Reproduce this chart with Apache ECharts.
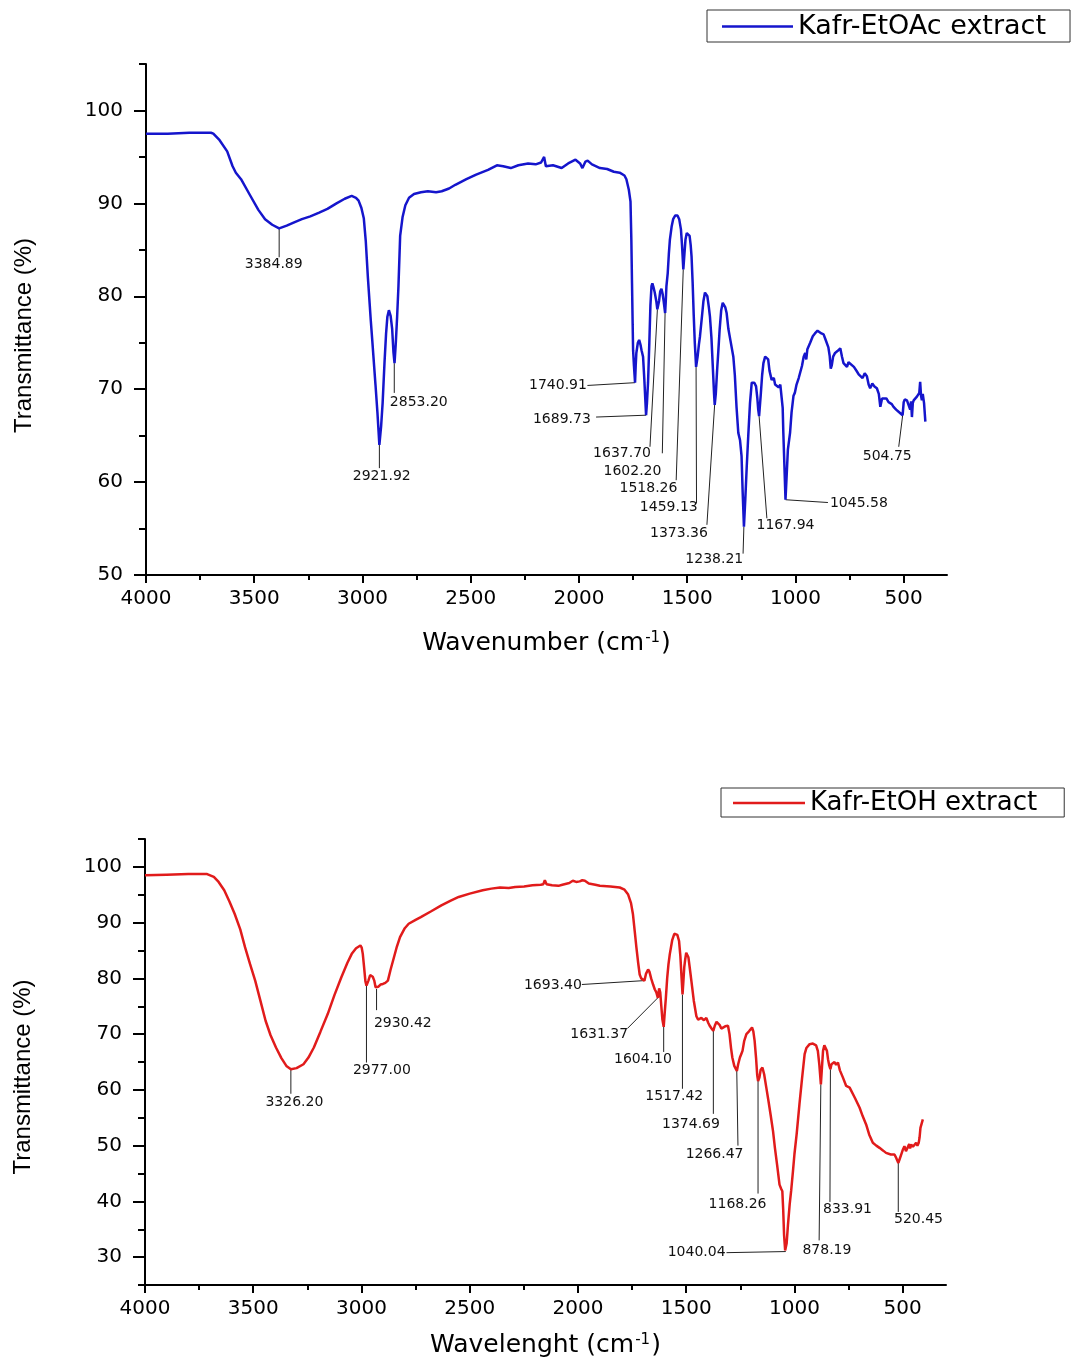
<!DOCTYPE html>
<html><head><meta charset="utf-8">
<script src="https://cdn.jsdelivr.net/npm/echarts@6.0.0/dist/echarts.min.js"></script>
<style>html,body{margin:0;padding:0;background:#fff}#c{width:1076px;height:1360px}</style>
</head><body><div id="c"></div>
<script>
// ---- axis ticks ----
const xMajorTicks = [500,1000,1500,2000,2500,3000,3500,4000];
const xMinorTicks = [750,1250,1750,2250,2750,3250,3750];
const topYMajor = [50,60,70,80,90,100];
const topYMinor = [55,65,75,85,95,105];
const botYMajor = [30,40,50,60,70,80,90,100];
const botYMinor = [25,35,45,55,65,75,85,95,105];

// ---- series names ----
const topSeriesName = 'Kafr-EtOAc extract';
const botSeriesName = 'Kafr-EtOH extract';

// ---- spectra [wavenumber, transmittance %] ----
const etoacSpectrum = [[4000,97.5],[3900,97.5],[3800,97.6],[3750,97.6],[3700,97.6],[3689,97.5],[3660,96.8],[3625,95.6],[3600,94.0],[3585,93.3],[3561,92.6],[3520,90.9],[3481,89.3],[3450,88.3],[3417,87.7],[3385,87.3],[3350,87.6],[3321,87.9],[3280,88.3],[3241,88.6],[3200,89.0],[3162,89.4],[3120,90.0],[3082,90.5],[3050,90.8],[3030,90.6],[3018,90.3],[3005,89.5],[2994,88.4],[2985,86],[2975,82],[2962,77.5],[2955,75.3],[2940,70.5],[2931,67.5],[2922,64.0],[2914,66],[2907,68.5],[2898,73],[2891,76.0],[2885,77.8],[2878,78.5],[2870,77.9],[2863,76.5],[2857,74],[2852,72.8],[2846,75],[2840,77.8],[2834,81],[2826,86.5],[2815,88.5],[2802,89.8],[2785,90.6],[2762,91.0],[2730,91.2],[2698,91.3],[2660,91.2],[2634,91.3],[2600,91.6],[2571,92.0],[2520,92.6],[2475,93.1],[2420,93.6],[2379,94.1],[2350,94.0],[2315,93.8],[2280,94.1],[2235,94.3],[2200,94.2],[2175,94.4],[2161,95.0],[2153,94.0],[2120,94.1],[2080,93.8],[2050,94.3],[2016,94.7],[1995,94.3],[1984,93.8],[1970,94.5],[1960,94.6],[1940,94.2],[1903,93.8],[1870,93.7],[1839,93.4],[1812,93.3],[1790,93.0],[1781,92.6],[1770,91.5],[1762,90.2],[1758,86],[1755,81.4],[1752,77],[1750,74.2],[1746,72.5],[1741,70.7],[1738,72.5],[1735,73.9],[1728,75.0],[1722,75.3],[1716,74.8],[1711,74.2],[1704,73.5],[1698,71],[1690,67.2],[1686,68.5],[1681,70.7],[1675,75],[1670,79],[1665,81.1],[1661,81.4],[1656,81],[1650,80.4],[1643,79.5],[1638,78.6],[1630,79.5],[1625,80.5],[1619,80.8],[1614,80.3],[1609,79.5],[1602,78.2],[1599,79.5],[1596,81.1],[1590,82.5],[1585,84.5],[1580,86.1],[1572,87.5],[1565,88.3],[1555,88.7],[1545,88.7],[1537,88.3],[1529,87.2],[1524,85.5],[1518,82.9],[1513,84.5],[1508,86.1],[1502,86.8],[1495,87.0],[1489,86.5],[1484,85.5],[1480,84.3],[1475,81.5],[1470,78],[1465,75],[1459,72.4],[1452,73.5],[1446,74.8],[1441,75.7],[1432,77.8],[1425,79.5],[1418,80.4],[1413,80.4],[1407,80.0],[1400,78.8],[1395,77.8],[1388,75.5],[1381,72],[1376,69.5],[1373,68.3],[1368,69.5],[1362,72],[1356,74.2],[1350,76.5],[1343,78.5],[1336,79.3],[1330,79.2],[1324,78.8],[1318,78.2],[1310,76.5],[1300,75.2],[1287,73.5],[1280,71.5],[1272,68.0],[1264,65.3],[1256,64.5],[1249,62.8],[1244,59],[1238,55.2],[1232,58],[1225,61.7],[1218,65],[1210,68.5],[1202,70.7],[1196,70.9],[1190,70.7],[1182,70.3],[1176,69],[1172,67.8],[1168,67.1],[1160,69.5],[1154,71.5],[1148,72.8],[1140,73.5],[1133,73.7],[1126,73.2],[1120,72.0],[1110,71.0],[1100,71.2],[1094,70.5],[1086,70.7],[1078,70.2],[1070,70.5],[1063,70.3],[1059,68],[1056,65.3],[1050,61],[1046,58.1],[1040,61],[1035,63.5],[1025,65.3],[1018,67.5],[1009,69.3],[1003,69.6],[995,70.5],[985,71.2],[978,71.4],[970,72.5],[962,73.5],[955,73.9],[950,73.2],[945,74.3],[932,75.0],[920,75.7],[910,76.0],[898,76.3],[890,76.1],[880,76.0],[870,75.9],[862,75.4],[855,75.2],[848,74.5],[842,73.6],[837,72.2],[832,72.6],[826,73.5],[817,73.9],[806,74.1],[793,74.4],[785,73.5],[778,72.8],[770,72.6],[762,72.4],[755,72.9],[747,72.8],[730,72.4],[716,71.9],[708,71.6],[701,71.4],[690,71.2],[680,71.7],[670,71.4],[662,70.5],[655,70.1],[645,70.6],[635,70.3],[624,70.1],[615,69.5],[608,68.1],[600,69.0],[593,69.2],[580,69.0],[570,68.6],[562,68.8],[555,68.4],[547,68.1],[535,67.8],[525,67.6],[516,67.4],[505,67.2],[500,68.6],[495,68.9],[485,68.8],[478,68.8],[470,67.8],[466,68.7],[462,67.0],[458,68.5],[454,68.8],[446,68.8],[439,69.2],[432,69.3],[428,69.6],[424,70.8],[420,69.3],[416,68.8],[412,69.5],[406,68.5],[400,66.5]];

const etohSpectrum = [[4000,98.5],[3900,98.6],[3800,98.7],[3713,98.7],[3682,98.2],[3660,97.3],[3634,95.8],[3610,93.8],[3586,91.6],[3560,88.8],[3538,85.6],[3515,82.6],[3491,79.6],[3467,76],[3443,72.4],[3420,69.8],[3395,67.6],[3370,65.7],[3347,64.3],[3326,63.7],[3300,63.9],[3268,64.6],[3245,65.8],[3220,67.6],[3190,70.4],[3156,73.6],[3125,77],[3093,80.2],[3065,82.8],[3045,84.4],[3025,85.4],[3005,85.9],[2999,85.5],[2994,84.4],[2988,82],[2982,79.5],[2977,78.7],[2972,79.0],[2968,79.6],[2960,80.6],[2954,80.8],[2948,80.3],[2941,79.6],[2935,78.4],[2930,78.1],[2922,78.5],[2912,78.9],[2901,79.0],[2890,79.2],[2878,79.6],[2866,81.5],[2854,83.2],[2838,85.5],[2822,87.4],[2800,89.0],[2782,89.8],[2750,90.5],[2726,91.0],[2680,92.0],[2631,93.1],[2590,93.9],[2551,94.6],[2500,95.2],[2440,95.8],[2400,96.1],[2360,96.3],[2320,96.2],[2290,96.4],[2249,96.5],[2210,96.7],[2172,96.8],[2160,96.9],[2153,97.6],[2145,96.9],[2120,96.7],[2090,96.6],[2072,96.8],[2040,97.1],[2024,97.5],[2008,97.3],[1992,97.4],[1980,97.6],[1968,97.5],[1950,97.0],[1920,96.8],[1899,96.6],[1850,96.5],[1807,96.3],[1785,95.9],[1769,95.1],[1755,93.5],[1746,91.5],[1738,88.5],[1730,85.5],[1722,82.8],[1715,80.7],[1708,80.0],[1700,79.8],[1693,79.6],[1686,80.8],[1676,81.6],[1670,81.2],[1662,80.0],[1653,78.9],[1645,78.0],[1638,77.5],[1631,76.5],[1625,78.2],[1620,77.5],[1615,75.0],[1610,72.6],[1604,71.3],[1599,74.0],[1594,76.5],[1588,80.0],[1582,82.5],[1576,84.3],[1565,86.8],[1555,88.0],[1549,88.2],[1541,87.8],[1533,86.7],[1527,84.0],[1522,80.5],[1517,77.1],[1513,79.5],[1509,82.0],[1505,83.3],[1500,84.6],[1496,84.9],[1490,83.8],[1484,82.0],[1476,79.5],[1465,76.0],[1453,73.2],[1445,72.6],[1430,72.9],[1418,72.5],[1407,72.9],[1398,72.0],[1390,71.4],[1383,71.0],[1375,70.6],[1368,71.5],[1360,72.2],[1353,72.4],[1345,71.6],[1338,71.0],[1330,70.9],[1320,71.4],[1307,71.5],[1300,70.0],[1293,67.5],[1287,65.8],[1278,64.3],[1266,63.4],[1260,64.6],[1252,65.8],[1246,66.4],[1240,67.0],[1232,68.8],[1222,70.0],[1210,70.5],[1203,70.6],[1196,71.2],[1190,70.5],[1184,68.8],[1177,65.5],[1172,62.6],[1168,61.6],[1162,62.2],[1156,63.6],[1148,64.0],[1140,62.8],[1130,60.4],[1120,58.0],[1110,55.5],[1099,52.6],[1090,49.5],[1080,46.5],[1069,43.0],[1062,42.3],[1056,41.8],[1052,38.5],[1048,34],[1043,31.2],[1040,31.0],[1036,32.5],[1030,35.8],[1022,39.5],[1015,42.0],[1007,45.4],[1000,48.5],[990,52.0],[977,57.4],[965,62.0],[953,66.4],[945,67.5],[938,67.6],[930,68.2],[922,67.9],[915,68.3],[907,68.5],[900,68.0],[892,67.0],[885,64.5],[878,61.0],[873,64.0],[868,67.0],[862,68.0],[856,68.2],[850,67.0],[845,65.5],[840,64.5],[834,63.7],[829,64.6],[822,64.6],[815,65.0],[808,64.5],[799,64.9],[790,63.5],[776,62.2],[761,60.7],[745,60.4],[738,60.1],[720,58.5],[699,56.8],[685,55.3],[669,53.8],[655,52.0],[638,50.5],[622,50.0],[607,49.6],[590,49.1],[577,48.7],[555,48.4],[538,48.4],[530,47.8],[520,46.9],[514,47.6],[507,48.4],[500,49.2],[492,49.9],[485,49.0],[477,49.3],[470,50.3],[466,49.5],[461,50.2],[453,49.8],[446,49.6],[438,50.5],[432,50.0],[426,50.5],[422,51.5],[418,53.2],[413,53.5],[407,54.7]];

// ---- peak annotations (labels, peak point, leader end, label centre) ----
const etoacPeakLabels = ['3384.89','2921.92','2853.20','1740.91','1689.73','1637.70','1602.20','1518.26','1459.13','1373.36','1238.21','1167.94','1045.58','504.75'];
const etoacPeakPoints = [[3384.89,87.3],[2921.92,64.0],[2853.20,72.8],[1740.91,70.7],[1689.73,67.2],[1637.70,78.6],[1602.20,78.2],[1518.26,82.9],[1459.13,72.4],[1373.36,68.3],[1238.21,55.2],[1167.94,67.1],[1045.58,58.1],[504.75,67.2]];
const etoacLeaderEnds = [[3384.89,84.2],[2921.92,61.5],[2853.20,69.6],[1961,70.4],[1921,67.0],[1672,63.8],[1615,63.1],[1551,60.2],[1457,57.7],[1409,55.4],[1242,52.3],[1132,56.1],[850,57.8],[523,63.8]];
const etoacLabelCenters = [[3410,83.4],[2911,60.6],[2740,68.6],[2097,70.4],[2079,66.8],[1801,63.1],[1753,61.2],[1679,59.3],[1585,57.3],[1538,54.5],[1375,51.7],[1046,55.3],[707,57.7],[576,62.8]];

const etohPeakLabels = ['3326.20','2977.00','2930.42','1693.40','1631.37','1604.10','1517.42','1374.69','1266.47','1168.26','1040.04','878.19','833.91','520.45'];
const etohPeakPoints = [[3326.20,63.7],[2977.00,78.7],[2930.42,78.1],[1693.40,79.6],[1631.37,76.5],[1604.10,71.3],[1517.42,77.1],[1374.69,70.6],[1266.47,63.4],[1168.26,61.6],[1040.04,31.0],[878.19,61.0],[833.91,63.7],[520.45,46.9]];
const etohLeaderEnds = [[3326.20,59.3],[2977.00,64.9],[2930.42,74.3],[1982,78.9],[1772,71.0],[1604.10,66.8],[1517.42,60.2],[1374.69,55.7],[1261,50.0],[1168.26,41.4],[1314,30.8],[886,33.0],[836,39.9],[520.45,38.1]];
const etohLabelCenters = [[3310,57.8],[2906,63.5],[2809,72.0],[2116,78.8],[1902,69.9],[1700,65.4],[1555,58.9],[1478,53.8],[1369,48.4],[1263,39.4],[1452,30.8],[850,31.2],[755,38.5],[427,36.8]];

// ---- build ----
const NUM_FONT = 'DejaVu Sans';
function annData(pts, ends, ctrs) {
  return pts.map((p, i) => [p[0], p[1], ends[i][0], ends[i][1], ctrs[i][0], ctrs[i][1]]);
}
function annRender(labels) {
  return function (params, api) {
    const a = api.coord([api.value(0), api.value(1)]);
    const b = api.coord([api.value(2), api.value(3)]);
    const t = api.coord([api.value(4), api.value(5)]);
    return {
      type: 'group',
      children: [
        { type: 'line', shape: { x1: a[0], y1: a[1], x2: b[0], y2: b[1] }, style: { stroke: '#222', lineWidth: 1 } },
        { type: 'text', x: t[0], y: t[1], style: { text: labels[params.dataIndex], fill: '#111', fontSize: 14, fontFamily: NUM_FONT, align: 'center', verticalAlign: 'middle' } }
      ]
    };
  };
}
const plainNum = v => String(v);
function xAxisPair(grid, title, gap) {
  const common = { gridIndex: grid, type: 'value', min: 300, max: 4000, inverse: true, position: 'bottom', splitLine: { show: false } };
  return [
    Object.assign({}, common, {
      axisLine: { show: true, lineStyle: { color: '#000', width: 2 } },
      axisTick: { show: true, customValues: xMajorTicks, length: 8, lineStyle: { color: '#000', width: 2 } },
      axisLabel: { show: true, customValues: xMajorTicks, formatter: plainNum, margin: 14, color: '#000', fontSize: 20, fontFamily: NUM_FONT },
      name: title + ' (cm{sup|-1})', nameLocation: 'middle', nameGap: gap,
      nameTextStyle: { color: '#000', fontSize: 25, fontFamily: NUM_FONT,
        rich: { sup: { fontSize: 15, fontFamily: NUM_FONT, color: '#000', verticalAlign: 'top', padding: [0, 1, 6, 1] } } }
    }),
    Object.assign({}, common, {
      axisLine: { show: false },
      axisTick: { show: true, customValues: xMinorTicks, length: 5, lineStyle: { color: '#000', width: 2 } },
      axisLabel: { show: false }
    })
  ];
}
function yAxisPair(grid, min, major, minor, shift) {
  const common = { gridIndex: grid, type: 'value', min: min, max: 105, position: 'left', splitLine: { show: false } };
  return [
    Object.assign({}, common, {
      axisLine: { show: true, lineStyle: { color: '#000', width: 2 } },
      axisTick: { show: true, customValues: major, length: 12, lineStyle: { color: '#000', width: 2 } },
      axisLabel: { show: true, customValues: major, formatter: plainNum, margin: 23, color: '#000', fontSize: 20, fontFamily: NUM_FONT },
      name: 'Transmittance (%)', nameLocation: 'middle', nameGap: 110,
      nameTextStyle: { color: '#000', fontSize: 24, fontFamily: 'Liberation Sans', padding: [0, shift, 0, 0] }
    }),
    Object.assign({}, common, {
      axisLine: { show: false },
      axisTick: { show: true, customValues: minor, length: 7, lineStyle: { color: '#000', width: 2 } },
      axisLabel: { show: false }
    })
  ];
}

const option = {
  animation: false,
  backgroundColor: '#fff',
  grid: [
    { left: 146, top: 64, width: 801, height: 511 },
    { left: 145, top: 839, width: 801, height: 446 }
  ],
  legend: [
    { data: [{ name: topSeriesName, icon: 'rect' }], left: 707, top: 10, orient: 'horizontal', selectedMode: false,
      itemWidth: 71, itemHeight: 2.5, padding: [3, 24, 2, 15],
      borderColor: '#333', borderWidth: 1, backgroundColor: '#fff',
      textStyle: { color: '#000', fontSize: 27, fontFamily: NUM_FONT } },
    { data: [{ name: botSeriesName, icon: 'rect' }], left: 721, top: 788, orient: 'horizontal', selectedMode: false,
      itemWidth: 72, itemHeight: 2.5, padding: [2, 27, 1, 12],
      borderColor: '#333', borderWidth: 1, backgroundColor: '#fff',
      textStyle: { color: '#000', fontSize: 26, fontFamily: NUM_FONT } }
  ],
  xAxis: [].concat(xAxisPair(0, 'Wavenumber', 56), xAxisPair(1, 'Wavelenght', 48)),
  yAxis: [].concat(yAxisPair(0, 50, topYMajor, topYMinor, 32), yAxisPair(1, 25, botYMajor, botYMinor, 30)),
  series: [
    { name: topSeriesName, type: 'line', xAxisIndex: 0, yAxisIndex: 0, data: etoacSpectrum,
      symbol: 'none', showSymbol: false, color: '#1515cc', lineStyle: { color: '#1515cc', width: 2.5 }, silent: true },
    { type: 'custom', xAxisIndex: 0, yAxisIndex: 0, renderItem: annRender(etoacPeakLabels),
      data: annData(etoacPeakPoints, etoacLeaderEnds, etoacLabelCenters), encode: { x: [0, 2, 4], y: [1, 3, 5] }, silent: true, clip: false },
    { name: botSeriesName, type: 'line', xAxisIndex: 2, yAxisIndex: 2, data: etohSpectrum,
      symbol: 'none', showSymbol: false, color: '#e11b1b', lineStyle: { color: '#e11b1b', width: 2.5 }, silent: true },
    { type: 'custom', xAxisIndex: 2, yAxisIndex: 2, renderItem: annRender(etohPeakLabels),
      data: annData(etohPeakPoints, etohLeaderEnds, etohLabelCenters), encode: { x: [0, 2, 4], y: [1, 3, 5] }, silent: true, clip: false }
  ]
};
const chart = echarts.init(document.getElementById('c'), null, { renderer: 'canvas' });
chart.setOption(option);
</script>
</body></html>
